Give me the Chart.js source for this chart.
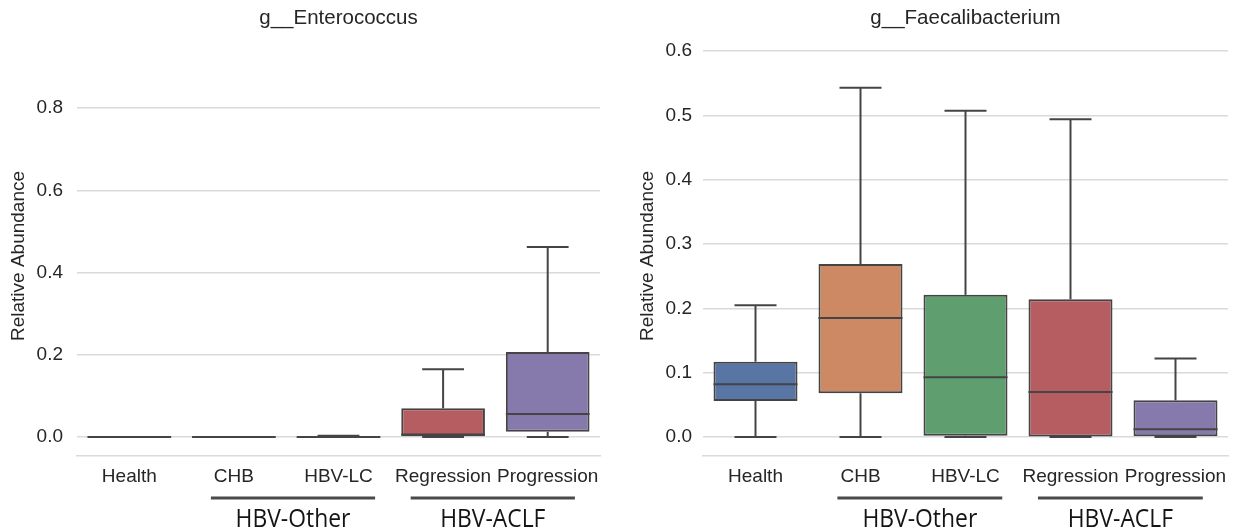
<!DOCTYPE html>
<html>
<head>
<meta charset="utf-8">
<script src="https://cdn.jsdelivr.net/npm/chart.js@4.4.1/dist/chart.umd.min.js"></script>
<style>
  html, body { margin: 0; padding: 0; background: #fff; }
  #wrap { display: flex; width: 1235px; height: 531px; }
  .panel { position: relative; height: 531px; }
  #p1 { width: 617px; }
  #p2 { width: 618px; }
</style>
</head>
<body>
<div id="wrap">
  <div class="panel" id="p1"><canvas id="c1"></canvas></div>
  <div class="panel" id="p2"><canvas id="c2"></canvas></div>
</div>
<script>
// categories on the x axis
const categories = ['Health', 'CHB', 'HBV-LC', 'Regression', 'Progression'];
const boxColors = ['#5975a4', '#cc8963', '#5f9e6e', '#b55d60', '#857aab'];
const groupNames = ['HBV-Other', 'HBV-ACLF'];
// bracket ends, in category-axis units
const groupSpans = [[0.78, 2.35], [2.69, 4.26]];

// g__Enterococcus (box stats per category)
const entMin    = [0, 0, 0, 0, 0];
const entQ1     = [0, 0, 0, 0, 0.013];
const entMedian = [0, 0, 0.0005, 0.006, 0.056];
const entQ3     = [0, 0, 0.002, 0.070, 0.207];
const entMax    = [0, 0, 0.003, 0.165, 0.462];
const entTicks  = [0, 0.2, 0.4, 0.6, 0.8];

// g__Faecalibacterium
const faeMin    = [0, 0, 0, 0, 0];
const faeQ1     = [0.056, 0.068, 0.002, 0.001, 0];
const faeMedian = [0.082, 0.185, 0.093, 0.070, 0.012];
const faeQ3     = [0.117, 0.269, 0.221, 0.214, 0.057];
const faeMax    = [0.205, 0.543, 0.507, 0.494, 0.122];
const faeTicks  = [0, 0.1, 0.2, 0.3, 0.4, 0.5, 0.6];

const LINE = '#444444';
const TEXT = '#262626';
const GRID = '#dadada';
const tickFont = { family: "'Liberation Sans', Arial, sans-serif", size: 19 };

// whiskers, caps, medians, title, y title and the group brackets
const boxExtras = {
  id: 'boxExtras',
  afterDatasetsDraw(chart, args, o) {
    const { ctx, scales: { x, y } } = chart;
    const meta = chart.getDatasetMeta(0);
    ctx.save();
    ctx.strokeStyle = LINE;
    ctx.lineWidth = 2;
    meta.data.forEach((bar, i) => {
      const cx = x.getPixelForValue(i);
      const half = bar.width / 2;
      const seg = (x0, y0, x1, y1) => { ctx.beginPath(); ctx.moveTo(x0, y0); ctx.lineTo(x1, y1); ctx.stroke(); };
      const yMax = y.getPixelForValue(o.max[i]), yQ3 = y.getPixelForValue(o.q3[i]);
      const yMin = y.getPixelForValue(o.min[i]), yQ1 = y.getPixelForValue(o.q1[i]);
      if (yQ3 - yMax > 0.5) seg(cx, yQ3, cx, yMax);
      if (yMin - yQ1 > 0.5) seg(cx, yQ1, cx, yMin);
      seg(cx - half / 2, yMax, cx + half / 2, yMax);
      seg(cx - half / 2, yMin, cx + half / 2, yMin);
      const yMed = y.getPixelForValue(o.median[i]);
      seg(cx - half, yMed, cx + half, yMed);
    });
    ctx.restore();
  },
  afterDraw(chart, args, o) {
    const { ctx, chartArea, scales: { x } } = chart;
    ctx.save();
    ctx.fillStyle = TEXT;
    ctx.textAlign = 'center';
    ctx.textBaseline = 'middle';
    ctx.font = "20.5px 'Liberation Sans', Arial, sans-serif";
    ctx.fillText(o.title, (chartArea.left + chartArea.right) / 2, 18);

    ctx.save();
    ctx.font = "19px 'Liberation Sans', Arial, sans-serif";
    ctx.translate(o.yTitleX, 256);
    ctx.rotate(-Math.PI / 2);
    ctx.fillText('Relative Abundance', 0, 0);
    ctx.restore();

    groupSpans.forEach((span, g) => {
      const x0 = x.getPixelForValue(span[0]);
      const x1 = x.getPixelForValue(span[1]);
      ctx.strokeStyle = '#4a4a4a';
      ctx.lineWidth = 3;
      ctx.beginPath(); ctx.moveTo(x0, 498); ctx.lineTo(x1, 498); ctx.stroke();
      ctx.save();
      ctx.translate((x0 + x1) / 2, 520);
      ctx.scale(0.88, 1);
      ctx.fillStyle = '#141414';
      ctx.font = "26px 'Open Sans', 'Liberation Sans', sans-serif";
      ctx.fillText(groupNames[g], 0, 0);
      ctx.restore();
    });
    ctx.restore();
  }
};

function makeChart(id, title, stats, yMin, yMax, ticks, axisWidth, padRight, tickPad, yTitleX) {
  return new Chart(document.getElementById(id), {
    type: 'bar',
    data: {
      labels: categories,
      datasets: [{
        data: categories.map((c, i) => [stats.q1[i], stats.q3[i]]),
        backgroundColor: boxColors,
        borderColor: LINE,
        borderWidth: 2,
        borderSkipped: false,
        categoryPercentage: 0.8,
        barPercentage: 1.0
      }]
    },
    options: {
      responsive: true,
      maintainAspectRatio: false,
      animation: false,
      layout: { padding: { top: 30, right: padRight, left: 0, bottom: 0 } },
      plugins: {
        legend: { display: false },
        tooltip: { enabled: false },
        title: { display: false },
        boxExtras: Object.assign({ title: title, yTitleX: yTitleX }, stats)
      },
      scales: {
        x: {
          grid: { display: false },
          border: { display: true, color: GRID, width: 1.5 },
          ticks: { color: TEXT, font: tickFont, padding: 1, maxRotation: 0, autoSkip: false },
          afterFit: s => { s.height = 75; }
        },
        y: {
          min: yMin,
          max: yMax,
          grid: { color: GRID, lineWidth: 1.5, drawTicks: false },
          border: { display: false },
          ticks: { color: TEXT, font: tickFont, padding: tickPad, callback: v => v.toFixed(1) },
          afterBuildTicks: s => { s.ticks = ticks.map(v => ({ value: v })); },
          afterFit: s => { s.width = axisWidth; }
        }
      }
    },
    plugins: [boxExtras]
  });
}

makeChart('c1', 'g__Enterococcus',
  { min: entMin, q1: entQ1, median: entMedian, q3: entQ3, max: entMax },
  -0.046, 0.990, entTicks, 77, 17, 14, 19);
makeChart('c2', 'g__Faecalibacterium',
  { min: faeMin, q1: faeQ1, median: faeMedian, q3: faeQ3, max: faeMax },
  -0.0295, 0.6327, faeTicks, 86, 7, 11, 31);
</script>
</body>
</html>
